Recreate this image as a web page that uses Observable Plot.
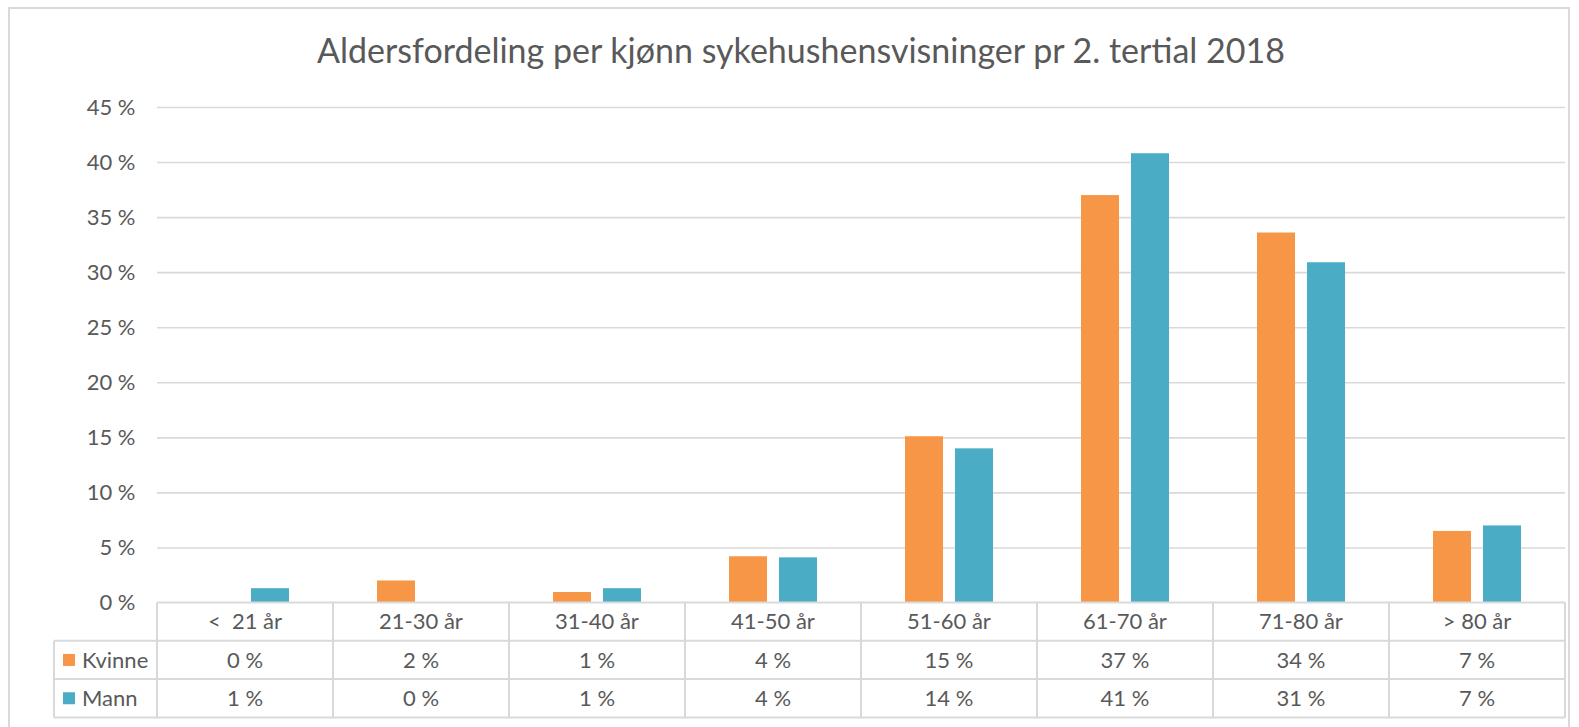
<!DOCTYPE html>
<html><head><meta charset="utf-8">
<script src="https://cdn.jsdelivr.net/npm/d3@7"></script>
<script src="https://cdn.jsdelivr.net/npm/@observablehq/plot@0.6"></script>
<style>
body{margin:0;background:#fff;font-family:Lato,"Open Sans",sans-serif;}
#wrap{position:relative;width:1579px;height:727px;overflow:hidden;background:#fff}
#border{position:absolute;left:8px;top:7px;width:1562px;height:740px;border:2px solid #d9d9d9;box-sizing:border-box}
#chart, #overlay{position:absolute;left:0;top:0}
</style>
</head><body>
<div id="wrap"><div id="border"></div><div id="chart"></div><div id="overlay"></div></div>
<script>
const title = "Aldersfordeling per kjønn sykehushensvisninger pr 2. tertial 2018";
const categories = ["<  21 år","21-30 år","31-40 år","41-50 år","51-60 år","61-70 år","71-80 år","> 80 år"];
const series = ["Kvinne","Mann"];
const colors = ["#F79646","#4BACC6"];
const kvinne = [0, 2.0, 0.95, 4.2, 15.1, 37.0, 33.6, 6.5];
const mann = [1.3, 0, 1.3, 4.1, 14.0, 40.8, 30.9, 7.0];
const yTicks = [0,5,10,15,20,25,30,35,40,45];

const values = {Kvinne: kvinne, Mann: mann};
const data = categories.flatMap((c,i)=>series.map(s=>({cat:c, sex:s, v:values[s][i]})));
const fmt = d => `${Math.round(d)} %`;
const textColor = "#595959";
const lineColor = "#d9d9d9";
const fs = 22;

const W = 1579, H = 727;
const chart = Plot.plot({
  width: W, height: H,
  marginLeft: 154, marginRight: 12, marginTop: 107, marginBottom: 124.5,
  style: {background:"transparent", fontFamily:"Lato, 'Open Sans', sans-serif", fontSize: fs + "px", color:textColor},
  fx: {domain: categories, padding: 0, axis: null, label: null},
  x: {domain: series, paddingInner: 0.235, paddingOuter: 0.849, axis: null},
  y: {domain: [0,45], ticks: yTicks, tickFormat: d => d + " %", tickSize: 0, tickPadding: 22, label: null},
  color: {domain: series, range: colors},
  marks: [
    Plot.ruleY(yTicks.filter(d=>d>0), {stroke: lineColor, strokeWidth: 1.6}),
    Plot.barY(data, {fx:"cat", x:"sex", y:"v", fill:"sex"})
  ]
});
document.getElementById("chart").appendChild(chart);

// Data table below the plot, positioned from Plot's scales
const fx = chart.scale("fx"), y = chart.scale("y");
const bw = fx.bandwidth;
const x0 = fx.apply(categories[0]);
const xEnd = fx.apply(categories[categories.length-1]) + bw;
const legendLeft = 54;
const top0 = y.apply(0);
const rowH = 38.3;
const rows = [top0, top0+rowH, top0+2*rowH, top0+3*rowH];

const svg = d3.create("svg").attr("width", W).attr("height", H)
  .style("font-family","Lato, 'Open Sans', sans-serif").style("fill", textColor);

svg.append("text").attr("x", 801).attr("y", 63).attr("text-anchor","middle")
  .attr("font-size", 34).attr("fill", textColor).text(title);

const g = svg.append("g").attr("stroke", lineColor).attr("stroke-width", 2);
g.append("line").attr("x1", x0).attr("x2", xEnd).attr("y1", rows[0]).attr("y2", rows[0]);
for (let r = 1; r < 4; r++) g.append("line").attr("x1", legendLeft).attr("x2", xEnd).attr("y1", rows[r]).attr("y2", rows[r]);
g.append("line").attr("x1", legendLeft).attr("x2", legendLeft).attr("y1", rows[1]).attr("y2", rows[3]);
categories.forEach(c => { const xx = fx.apply(c); g.append("line").attr("x1", xx).attr("x2", xx).attr("y1", rows[0]).attr("y2", rows[3]); });
g.append("line").attr("x1", xEnd).attr("x2", xEnd).attr("y1", rows[0]).attr("y2", rows[3]);

const t = svg.append("g").attr("font-size", fs).attr("fill", textColor).attr("text-anchor","middle");
categories.forEach((c,i) => {
  const cx = fx.apply(c) + bw/2;
  t.append("text").attr("x", cx).attr("y", rows[0]+rowH/2).attr("dy","0.35em").style("white-space","pre").text(c);
  series.forEach((s,j) => {
    t.append("text").attr("x", cx).attr("y", rows[j+1]+rowH/2).attr("dy","0.35em").text(fmt(values[s][i]));
  });
});
series.forEach((s,j) => {
  const cy = rows[j+1]+rowH/2;
  svg.append("rect").attr("x", 63).attr("y", cy-6).attr("width", 12).attr("height", 12).attr("fill", colors[j]);
  svg.append("text").attr("x", 82).attr("y", cy).attr("dy","0.35em").attr("font-size", fs).attr("fill", textColor).text(s);
});
document.getElementById("overlay").appendChild(svg.node());
</script>
</body></html>
